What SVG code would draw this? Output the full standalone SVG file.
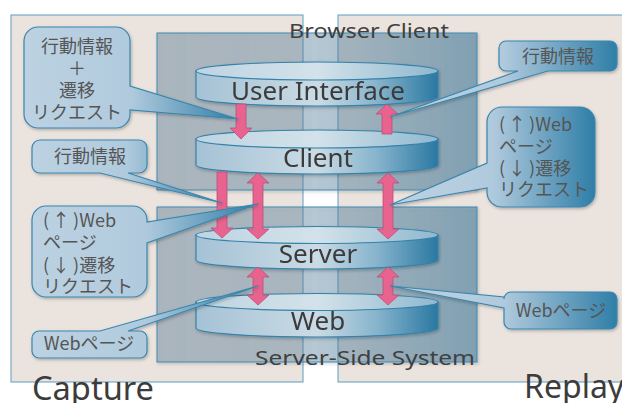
<svg xmlns="http://www.w3.org/2000/svg" width="622" height="403" viewBox="0 0 622 403">
  <defs>
    <style>
      .panel { fill: #eae3de; stroke: #5f9cc0; stroke-width: 1; }
      .tier { fill: url(#tierFill); stroke: #3f88b1; stroke-width: 1; filter: url(#soft); }
      .tierLabel { font-family: "Noto Sans", "Liberation Sans", sans-serif; font-size: 20px; fill: #404040; }
      .bigLabel { font-family: "Noto Sans", "Liberation Sans", sans-serif; font-size: 32px; fill: #3c3c3c; }
      .cylBody { fill: url(#cylSide); stroke: #3482aa; stroke-width: 1.2; }
      .cylTop { fill: url(#cylTop); stroke: #3482aa; stroke-width: 1.2; }
      .nodeLabel { font-family: "Noto Sans", "Liberation Sans", sans-serif; font-size: 26px; fill: #3a3a3a; text-anchor: middle; }
      .arrow { fill: #e8638e; stroke: #b9507c; stroke-width: 0.8; }
      .callout { fill: url(#calloutFill); stroke: #3a86ae; stroke-width: 1.2; filter: url(#soft); }
      .note { font-family: "Noto Sans CJK JP", "Noto Sans", sans-serif; font-size: 18px; fill: #555; }
      .mid { text-anchor: middle; }
    </style>
    <linearGradient id="tierFill" x1="0" y1="0" x2="1" y2="0">
      <stop offset="0" stop-color="#60829b" stop-opacity="0.38"/>
      <stop offset="0.5" stop-color="#4f7d9c" stop-opacity="0.35"/>
      <stop offset="1" stop-color="#286e96" stop-opacity="0.48"/>
    </linearGradient>
    <linearGradient id="cylSide" x1="0" y1="0" x2="1" y2="0">
      <stop offset="0" stop-color="#a5c2d5"/>
      <stop offset="0.5" stop-color="#cadbe5"/>
      <stop offset="0.75" stop-color="#86b3cc"/>
      <stop offset="1" stop-color="#2a78a2"/>
    </linearGradient>
    <linearGradient id="cylTop" x1="0" y1="0" x2="1" y2="0">
      <stop offset="0" stop-color="#bed4e1"/>
      <stop offset="0.5" stop-color="#d3e2ea"/>
      <stop offset="1" stop-color="#8fb8cf"/>
    </linearGradient>
    <linearGradient id="calloutFill" x1="0" y1="0" x2="1" y2="0">
      <stop offset="0" stop-color="#bcd2e2"/>
      <stop offset="0.5" stop-color="#b0cadd"/>
      <stop offset="1" stop-color="#2f7ea7"/>
    </linearGradient>
    <filter id="soft" x="-10%" y="-10%" width="125%" height="130%">
      <feDropShadow dx="1" dy="1.5" stdDeviation="1.5" flood-color="#000" flood-opacity="0.25"/>
    </filter>
  </defs>

  <!-- capture / replay panels -->
  <g id="panels">
    <rect id="capture-panel" class="panel" x="11" y="15" width="292" height="367"/>
    <rect id="replay-panel" class="panel" x="338" y="15" width="300" height="367"/>
  </g>

  <!-- tiers -->
  <g id="tiers">
    <rect id="browser-client" class="tier" x="157" y="33" width="320" height="157"/>
    <rect id="server-side-system" class="tier" x="157" y="207" width="320" height="155"/>
  </g>

  <!-- layers -->
  <g id="user-interface" filter="url(#soft)">
    <path class="cylBody" d="M196,71 V97 A121,9 0 0 0 438,97 V71 Z"/>
    <ellipse class="cylTop" cx="317" cy="71" rx="121" ry="9"/>
    <text class="nodeLabel" x="318" y="100">User Interface</text>
  </g>
  <g id="client" filter="url(#soft)">
    <path class="cylBody" d="M196,139 V165 A121,9 0 0 0 438,165 V139 Z"/>
    <ellipse class="cylTop" cx="317" cy="139" rx="121" ry="9"/>
    <text class="nodeLabel" x="318" y="167">Client</text>
  </g>
  <g id="server" filter="url(#soft)">
    <path class="cylBody" d="M196,235 V260 A121,9 0 0 0 438,260 V235 Z"/>
    <ellipse class="cylTop" cx="317" cy="235" rx="121" ry="8.5"/>
    <text class="nodeLabel" x="318" y="263">Server</text>
  </g>
  <g id="web" filter="url(#soft)">
    <path class="cylBody" d="M196,302 V328 A121,9 0 0 0 438,328 V302 Z"/>
    <ellipse class="cylTop" cx="317" cy="302" rx="121" ry="8.5"/>
    <text class="nodeLabel" x="318" y="330">Web</text>
  </g>

  <!-- tier captions -->
  <text class="tierLabel" x="289" y="38" textLength="160" lengthAdjust="spacingAndGlyphs">Browser Client</text>
  <text class="tierLabel" x="255" y="365" textLength="220" lengthAdjust="spacingAndGlyphs">Server-Side System</text>

  <!-- arrows -->
  <g id="connectors">
    <path class="arrow" d="M236,104 H246 V128 H252 L241,139 L230,128 H236 Z"/>
    <path class="arrow" d="M387,104 L398,114 H392 V134 H382 V114 H376 Z"/>
    <path class="arrow" d="M217,172 H227 V228 H233 L222,238 L211,228 H217 Z"/>
    <path class="arrow" d="M258,173 L269,183 H263 V229 H269 L258,239 L247,229 H253 V183 H247 Z"/>
    <path class="arrow" d="M388,173 L399,183 H393 V229 H399 L388,239 L377,229 H383 V183 H377 Z"/>
    <path class="arrow" d="M258,267 L269,277 H263 V295 H269 L258,305 L247,295 H253 V277 H247 Z"/>
    <path class="arrow" d="M388,267 L399,277 H393 V295 H399 L388,305 L377,295 H383 V277 H377 Z"/>
  </g>

  <!-- notes -->
  <g id="note-capture-ui">
    <path class="callout" d="M38,27 H116 A14,14 0 0 1 130,41 V86 L238,119 L130,110 V114 A14,14 0 0 1 116,128 H38 A14,14 0 0 1 24,114 V41 A14,14 0 0 1 38,27 Z"/>
    <text class="note mid" x="77" y="53">行動情報</text>
    <text class="note mid" x="77" y="75">＋</text>
    <text class="note mid" x="77" y="97">遷移</text>
    <text class="note mid" x="77" y="119">リクエスト</text>
  </g>
  <g id="note-capture-client">
    <path class="callout" d="M40,140 H139 A8,8 0 0 1 147,148 V165 A8,8 0 0 1 139,173 H128 L222,203 L100,173 H40 A8,8 0 0 1 32,165 V148 A8,8 0 0 1 40,140 Z"/>
    <text class="note mid" x="90" y="163">行動情報</text>
  </g>
  <g id="note-capture-server">
    <path class="callout" d="M46,206 H133 A14,14 0 0 1 147,220 V222 L258,204 L147,243 V283 A14,14 0 0 1 133,297 H46 A14,14 0 0 1 32,283 V220 A14,14 0 0 1 46,206 Z"/>
    <text class="note" x="43" y="227">(<tspan dx="3">↑</tspan><tspan dx="3">)Web</tspan></text>
    <text class="note" x="43" y="249">ページ</text>
    <text class="note" x="43" y="272">(<tspan dx="3">↓</tspan><tspan dx="3">)遷移</tspan></text>
    <text class="note" x="43" y="293">リクエスト</text>
  </g>
  <g id="note-capture-web">
    <path class="callout" d="M39,331 H100 L258,286 L128,331 H140 A7,7 0 0 1 147,338 V351 A7,7 0 0 1 140,358 H39 A7,7 0 0 1 32,351 V338 A7,7 0 0 1 39,331 Z"/>
    <text class="note mid" x="89" y="350">Webページ</text>
  </g>
  <g id="note-replay-ui">
    <path class="callout" d="M506,41 H610 A7,7 0 0 1 617,48 V64 A7,7 0 0 1 610,71 H548 L390,117 L518,71 H506 A7,7 0 0 1 499,64 V48 A7,7 0 0 1 506,41 Z"/>
    <text class="note mid" x="558" y="63">行動情報</text>
  </g>
  <g id="note-replay-server">
    <path class="callout" d="M502,107 H580 A15,15 0 0 1 595,122 V192 A15,15 0 0 1 580,207 H502 A15,15 0 0 1 487,192 V188 L390,205 L487,163 V122 A15,15 0 0 1 502,107 Z"/>
    <text class="note" x="499" y="131">(<tspan dx="3">↑</tspan><tspan dx="3">)Web</tspan></text>
    <text class="note" x="499" y="153">ページ</text>
    <text class="note" x="499" y="175">(<tspan dx="3">↓</tspan><tspan dx="3">)遷移</tspan></text>
    <text class="note" x="499" y="196">リクエスト</text>
  </g>
  <g id="note-replay-web">
    <path class="callout" d="M511,292 H610 A7,7 0 0 1 617,299 V322 A7,7 0 0 1 610,329 H511 A7,7 0 0 1 504,322 V308 L390,286 L504,297 V299 A7,7 0 0 1 511,292 Z"/>
    <text class="note mid" x="561" y="317">Webページ</text>
  </g>

  <!-- panel captions -->
  <text class="bigLabel" x="32" y="400" textLength="122" lengthAdjust="spacingAndGlyphs">Capture</text>
  <text class="bigLabel" x="524" y="398">Replay</text>
</svg>
